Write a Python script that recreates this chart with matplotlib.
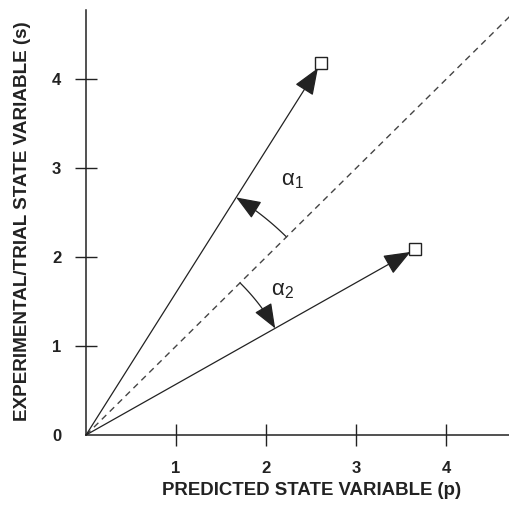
import numpy as np
import matplotlib.pyplot as plt
from matplotlib.patches import FancyArrowPatch
from matplotlib.path import Path

plt.rcParams['font.family'] = ['Liberation Sans', 'DejaVu Sans']
plt.rcParams['mathtext.fontset'] = 'custom'
plt.rcParams['mathtext.rm'] = 'Liberation Sans'
plt.rcParams['mathtext.it'] = 'Liberation Sans'

# Predicted (p) vs experimental (s) state for the two trials
pred = [2.61, 3.66]
expt = [4.18, 2.09]
arc_radius = [3.15, 2.42]
alpha_labels = [r'$\mathrm{\alpha}_1$', r'$\mathrm{\alpha}_2$']
alpha_pos = [(2.29, 2.86), (2.18, 1.63)]

xticks = [1, 2, 3, 4]
yticks = [0, 1, 2, 3, 4]

fig = plt.figure(figsize=(5.09, 5.05), dpi=100)
ax = fig.add_axes([0.169, 0.1386, 0.831, 0.8416])
ax.set_xlim(0, 4.7)
ax.set_ylim(0, 4.78)

ink = '#222222'

# Identity line p = s
ax.plot([0, 4.75], [0, 4.75], ls=(0, (4.5, 3.5)), color='#444444', lw=1.0, clip_on=True)

head = '-|>,head_length=1.4,head_width=0.55'

# Arrows from origin to each trial point
for p, s in zip(pred, expt):
    ax.annotate('', xy=(p, s), xytext=(0, 0),
                arrowprops=dict(arrowstyle=head, color=ink, lw=0.9,
                                mutation_scale=12, shrinkA=0, shrinkB=4))
    ax.plot(p, s, marker='s', ms=8.5, mfc='white', mec=ink, mew=1.0, zorder=5)

# Angle arcs between the identity line and each trial line
for p, s, r in zip(pred, expt, arc_radius):
    a0 = np.pi / 4
    a1 = np.arctan2(s, p)
    t = np.linspace(a0, a1, 40)
    verts = np.column_stack([r * np.cos(t), r * np.sin(t)])
    arc = FancyArrowPatch(path=Path(verts), arrowstyle=head, color=ink,
                          lw=0.9, mutation_scale=11, shrinkA=0, shrinkB=0)
    ax.add_patch(arc)

for lab, (x, y) in zip(alpha_labels, alpha_pos):
    ax.text(x, y, lab, fontsize=16, ha='center', va='center', color=ink)

for side in ['top', 'right']:
    ax.spines[side].set_visible(False)
for side in ['left', 'bottom']:
    ax.spines[side].set_linewidth(1.1)
    ax.spines[side].set_color(ink)

ax.set_xticks(xticks)
ax.set_yticks(yticks)
ax.tick_params(direction='inout', length=15.5, width=1.0, color=ink,
               labelsize=12, labelcolor=ink)
ax.tick_params(axis='x', pad=11)
ax.tick_params(axis='y', pad=10)
ax.yaxis.get_major_ticks()[0].tick1line.set_visible(False)
for lbl in ax.get_xticklabels() + ax.get_yticklabels():
    lbl.set_fontweight('bold')

ax.set_xlabel('PREDICTED STATE VARIABLE (p)', fontsize=13.4, color=ink, fontweight='bold')
ax.set_ylabel('EXPERIMENTAL/TRIAL STATE VARIABLE (s)', fontsize=13.6, color=ink, fontweight='bold')
ax.xaxis.set_label_coords(0.534, -0.11)
ax.yaxis.set_label_coords(-0.130, 0.504)

fig.savefig('out.png', dpi=100)
